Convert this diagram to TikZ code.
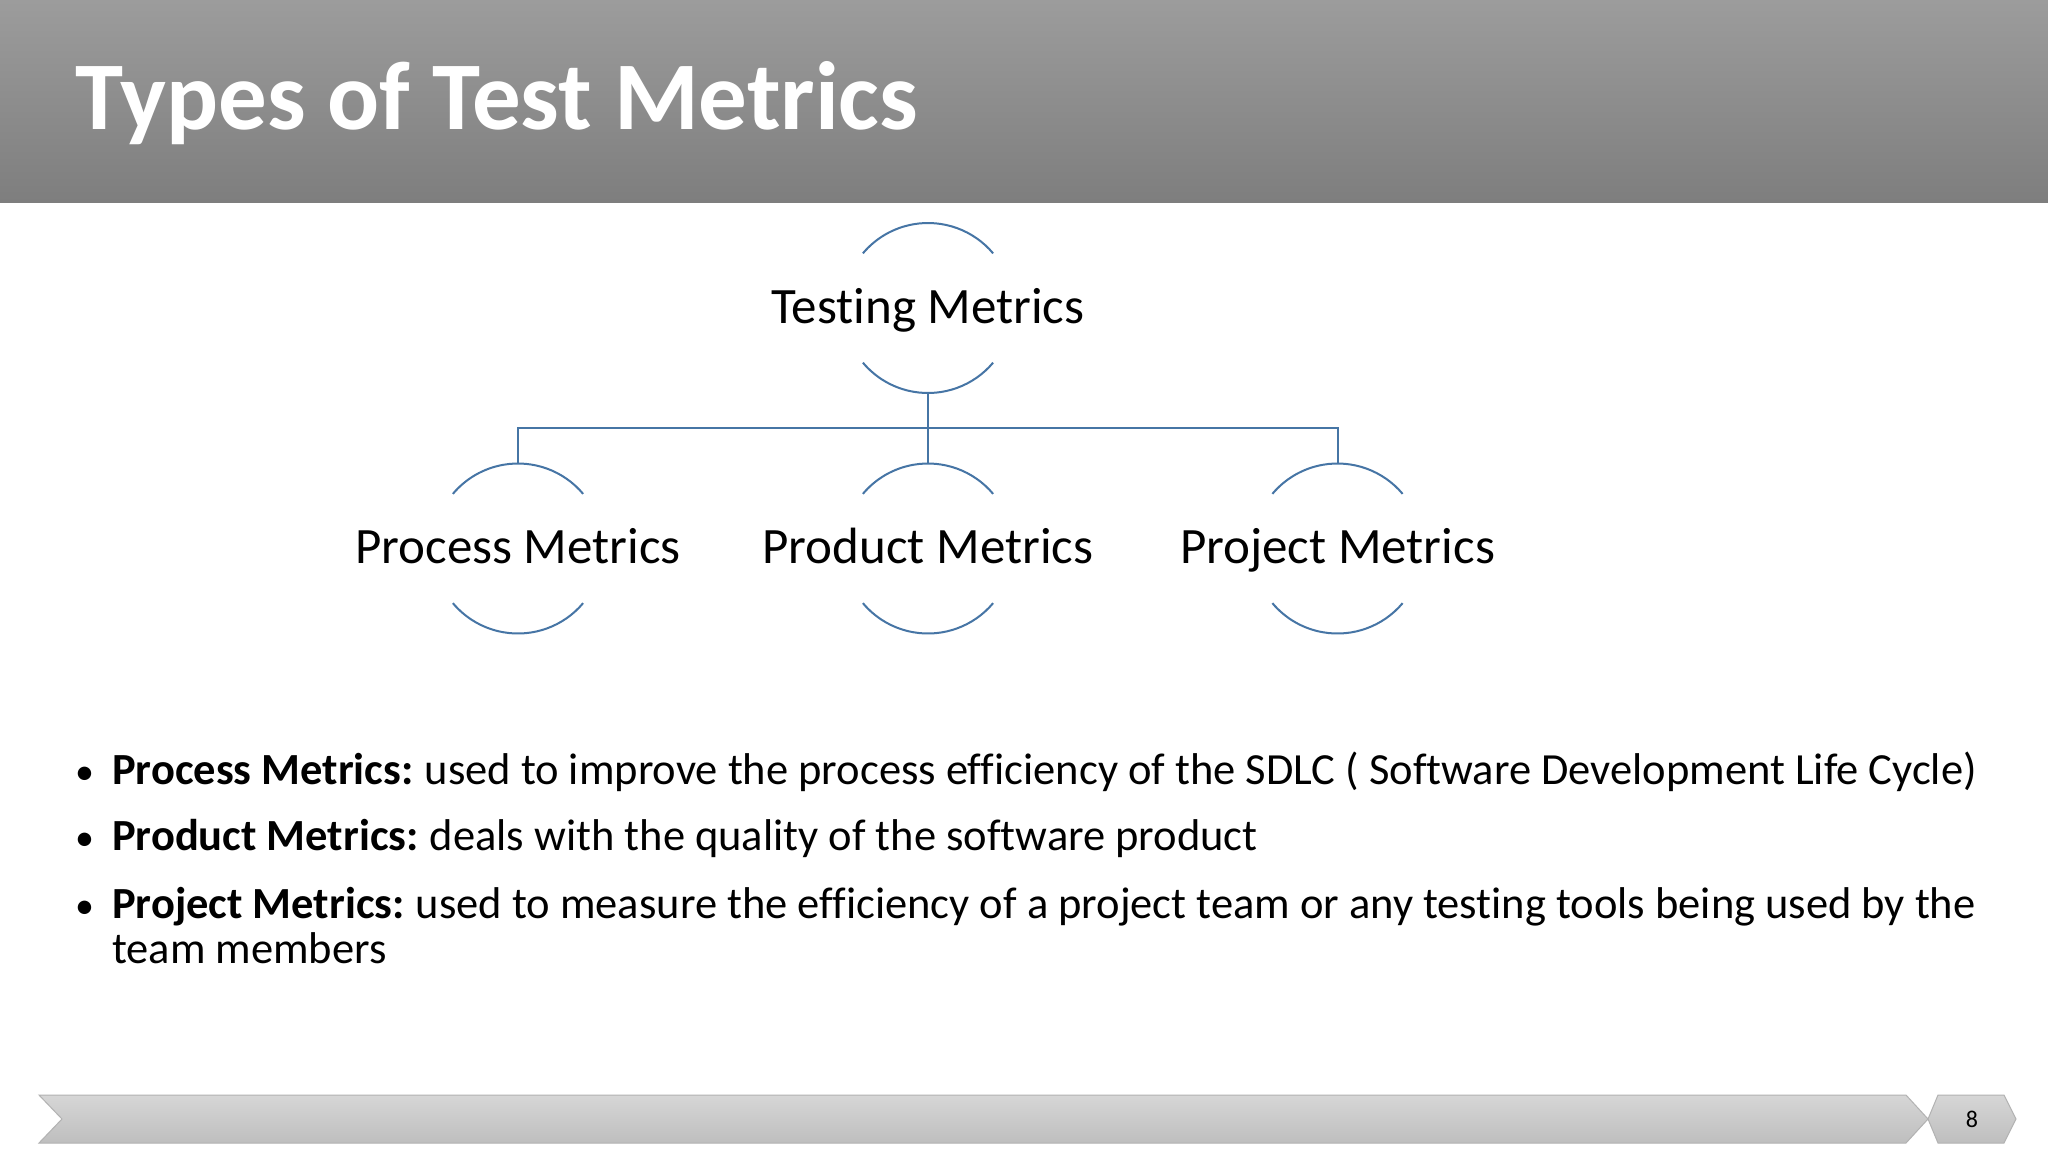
\documentclass[tikz,border=0pt]{standalone}
\usepackage{fontspec}
\setmainfont[Ligatures={NoCommon}]{Carlito}
\usetikzlibrary{calc}
\definecolor{lineblue}{RGB}{70,117,165}
\definecolor{bandtop}{RGB}{156,156,156}
\definecolor{bandbot}{RGB}{126,126,126}
\definecolor{bartop}{RGB}{214,214,214}
\definecolor{barbot}{RGB}{190,190,190}
\definecolor{barline}{RGB}{178,178,178}
\tikzset{
  mnode/.style={circle, minimum size=170pt, inner sep=0pt, outer sep=0pt},
  lbl/.style={font=\fontsize{51}{60}\selectfont, inner sep=0pt, anchor=base},
  arcline/.style={draw=lineblue, line width=2pt},
  conn/.style={draw=lineblue, line width=2pt},
  bul/.style={font=\fontsize{44.5}{52}\selectfont, inner sep=0pt, anchor=base west},
  dot/.style={font=\fontsize{38}{46}\selectfont, inner sep=0pt, anchor=base west},
}
\begin{document}
\begin{tikzpicture}[x=1pt,y=-1pt]
\useasboundingbox (0,0) rectangle (2048,1152);
\fill[white] (0,0) rectangle (2048,1152);
% title band
\shade[top color=bandtop, bottom color=bandbot] (0,0) rectangle (2048,202);
\node[anchor=base west, text=white, inner sep=0pt, font=\bfseries\fontsize{97}{105}\selectfont] (title) at (75,129) {Types of Test Metrics};
% hierarchy
\node[mnode] (root) at (928,308) {};
\node[mnode] (proc) at (518,548.5) {};
\node[mnode] (prod) at (928,548.5) {};
\node[mnode] (proj) at (1337.5,548.5) {};
\node[lbl] (rootlbl) at ($(root.center)+(0,15)$) {Testing Metrics};
\node[lbl] (proclbl) at ($(proc.center)+(0,15)$) {Process Metrics};
\node[lbl] (prodlbl) at ($(prod.center)+(0,15)$) {Product Metrics};
\node[lbl] (projlbl) at ($(proj.center)+(0,15)$) {Project Metrics};
\foreach \n in {root,proc,prod,proj}{
  \draw[arcline] (\n.40) arc[start angle=-40, end angle=-140, radius=85];
  \draw[arcline] (\n.-40) arc[start angle=40, end angle=140, radius=85];
}
\draw[conn] (root.south) -- ++(0,35) -| (proc.north);
\draw[conn] (root.south) -- (prod.north);
\draw[conn] (root.south) -- ++(0,35) -| (proj.north);
% bullets
\node[dot] (d1) at (75,784) {•};
\node[dot] (d2) at (75,850) {•};
\node[dot] (d3) at (75,918) {•};
\node[bul] (b1) at (112,784) {\textbf{Process Metrics:}\hspace{-0.05em} used to improve the process efficiency of the SDLC ( Software Development Life Cycle)};
\node[bul] (b2) at (112,850) {\textbf{Product Metrics:}\hspace{-0.05em} deals with the quality of the software product};
\node[bul] (b3) at (112,918) {\textbf{Project Metrics:}\hspace{-0.05em} used to measure the efficiency of a project team or any testing tools being used by the};
\node[bul] (b4) at (112,963) {team members};
% footer bar
\shade[top color=bartop, bottom color=barbot, draw=barline, line width=1pt] (39,1095) -- (1906,1095) -- (1928,1119) -- (1906,1143) -- (39,1143) -- (62,1119) -- cycle;
\shade[top color=bartop, bottom color=barbot, draw=barline, line width=1pt] (1928,1119) -- (1938,1095) -- (2004,1095) -- (2016,1119) -- (2004,1143) -- (1938,1143) -- cycle;
\node[inner sep=0pt, font=\fontsize{24}{28}\selectfont] (pnum) at (1972,1119) {8};
\end{tikzpicture}
\end{document}
